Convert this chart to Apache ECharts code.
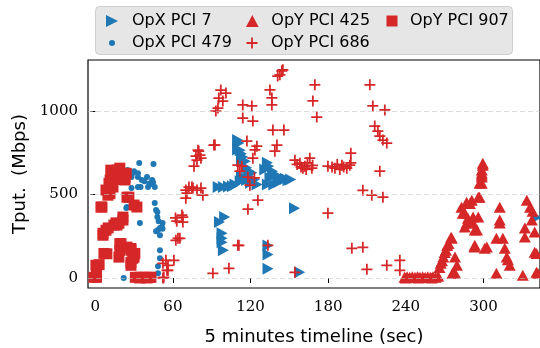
<!DOCTYPE html>
<html><head><meta charset="utf-8">
<script src="https://cdn.jsdelivr.net/npm/echarts@6/dist/echarts.min.js"></script>
<style>html,body{margin:0;padding:0;background:#fff}#c{width:540px;height:348px}</style>
</head><body><div id="c"></div>
<script>
const xTicks = [0, 60, 120, 180, 240, 300];
const yTicks = [0, 500, 1000];
const seriesNames = ['OpX PCI 7', 'OpX PCI 479', 'OpY PCI 425', 'OpY PCI 686', 'OpY PCI 907'];

const opxPci7 = [
  [95,545],[99,545],[103,548],[106,550],[108,560],[111,809],[110,770],[113,745],[114,725],[116,700],
  [117,660],[119,640],[121,630],[113,610],[118,600],[123,590],[112,580],[120,570],[125,560],
  [131,650],[133,690],[134,670],[135,600],[137,640],[139,620],[141,590],[143,600],[145,590],[147,595],
  [149,585],[151,590],[138,560],[133,560],[142,575],[110,826],[112,766],[113,706],[117,587],
  [96,335],[100,365],[98,268],[98,238],[98,214],[99,166],[154,418],[133.5,195],[133.5,140],[133.5,55],
  [158,34],[341,363]
];
const opxPci479 = [
  [25,647],[29,629],[34,689],[45,683],[33,605],[36,587],[40,605],[44,587],[46,545],[33,545],[28,539],
  [25,467],[24.5,425],[34.5,329],[46,449],[47,407],[48,365],[48.5,287],[51.5,304],[52,329],[50,256],
  [50,166],[50,118],[48.5,70],[48.5,28],[22,0],[45,4],[30,640],[38,580],[42,560],[48,395],[49,340],
  [50,300],[47,280],[52,295],[44.7,574],[40.8,545],[24,419],[33,627],[28,605],[42,566],[35,545]
];
const opyPci425 = [
  [239,5],[241,8],[243,5],[245,8],[247,5],[249,8],[251,5],[253,8],[255,5],[257,8],[259,5],[261,8],
  [263,5],[265,10],[240,0],[250,0],[260,0],
  [266,63],[268,104],[270,152],[272,195],[275.5,238],[276,28],[278,125],[279.5,76],[267,88],[269,125],
  [271,166],[273,207],[275,244],[278,30],
  [283,424],[287,454],[291,466],[285.6,388],[288,358],[285.6,305],[292,329],[293.3,287],[296,365],
  [297,484],[293.3,196],[301,178],[289.5,447],[284,388],[292,365],[287,329],[295,287],[293,186],[302.6,186],
  [298.7,567],[298.7,617],[298.7,647],[299.5,676],[298.7,629],[299.5,688],[298.7,605],[297,567],[296,484],
  [312.6,424],[312.6,347],[312.6,329],[310,238],[315,238],[316.5,178],[318,125],[320.3,76],[310,28],
  [318.9,110],[333.5,466],[336,424],[337.4,347],[332,299],[332,245],[339.6,275],[339.6,154],[330.4,16],
  [342,28],[338,400],[341,147],[341,34]
];
const opyPci686 = [
  [97,1126],[101,1108],[95.5,1078],[98.6,1060],[94.8,1018],[93.2,1000],[91.7,796],[80,760],[77.8,730],
  [81.7,718],[76.3,670],[72.4,545],[70,527],[75.5,539],[81.7,539],[83.2,496],[70,478],[67.7,365],
  [67.7,335],[63.9,238],[62.3,226],[54.6,106],[56.2,76],[60.8,106],[56.2,46],[53,4],[90.9,28],[103.3,58],
  [111,196],[52.3,88],[55.4,46],[52.3,0],[65.4,238],[67,377],[70.8,508],[74.7,545],[78.6,527],[79.4,766],
  [78.6,706],[80.9,736],[92.5,796],[62,360],[63,340],
  [144.2,1241],[142.7,1217],[141,1210],[145,1247],[135,1127],[136.5,1079],[136.5,1037],[114,1037],
  [121,1031],[114,958],[121.8,940],[137.3,886],[145.8,886],[117.2,820],[124.9,790],[123.4,767],
  [140.4,796],[138.8,760],[121.8,718],[110.2,676],[113.3,670],[111.8,640],
  [169.7,1157],[168.2,1061],[171.2,964],[212.2,1157],[214.5,1031],[223.8,1007],[216,910],[218.4,880],
  [219.9,850],[222.3,826],[225.3,808],[197.5,748],
  [154.3,706],[158.1,688],[160.5,658],[165.8,718],[167.4,658],[156,680],[162,670],[164,690],[168,675],
  [159,665],[163,650],
  [179.8,670],[185.2,658],[190.6,676],[194.4,658],[196.7,676],[183,665],[187,680],[192,665],[189,650],
  [197.5,690],[219.9,640],
  [118,604],[119.5,556],[125.7,466],[118,412],[110.2,196],[133.4,196],[179.8,388],[206.8,525],[213.7,496],
  [222.3,484],[198.3,178],[206.8,184],[209.9,52],[225.3,76],[235.4,106],[235.4,46],[154.3,34],[123,600]
];
const opyPci907 = [
  [1,4],[1,64],[0.5,76],[-1,4],[4.4,425],[5.2,425],[6,268],[6,256],[6.7,147],[8.3,286],[8.3,527],[9,145],
  [9.8,496],[10.6,567],[11.4,505],[13.7,616],[13.7,605],[13.7,545],[14.4,317],[16.8,647],[16.8,317],
  [17.5,627],[18.3,328],[18.3,125],[19,629],[19,206],[19,166],[19.9,206],[21.4,605],[21.4,365],[21.4,347],
  [24.5,484],[24.5,185],[26,484],[27.6,166],[27.6,76],[29,118],[30,125],[30,437],[32.2,425],[31,4],
  [33.8,4],[34.5,0],[36,4],[39,4],[40,0],[42,4],[43,4],[12,560],[15,590],[20,600],[23,600],[16,330],
  [10,300],[3,80],[12,646],[19,658],[24,627],[11.5,587],[16,598],[23,587],[27.6,177],[30.6,147],[27.6,94]
];

const BLUE = '#1f77b4', RED = '#d62728';
const RTRI = 'path://M0,0L10,5L0,10Z';
const UTRI = 'path://M5,0L10,9.5L0,9.5Z';
const SQR = 'path://M0,0H10V10H0Z';
const PLUS = 'path://M4.2,0H5.8V4.2H10V5.8H5.8V10H4.2V5.8H0V4.2H4.2Z';

const chart = echarts.init(document.getElementById('c'), null, {renderer: 'canvas'});

function legendAt(name, icon, size, cx, cy, textOff) {
  return {
    data: [{name: name, icon: icon}],
    left: cx - size / 2, top: cy - 6,
    itemWidth: (textOff - 5) * 2, itemHeight: size,
    padding: 0, selectedMode: false,
    textStyle: {fontFamily: 'DejaVu Sans', fontSize: 16, color: '#000'}
  };
}

chart.setOption({
  animation: false,
  backgroundColor: '#fff',
  graphic: [{
    type: 'rect', left: 95, top: 6, z: 0,
    shape: {width: 417, height: 48, r: 4},
    style: {fill: '#e6e6e6', stroke: '#cfcfcf', lineWidth: 1}
  }],
  legend: [
    legendAt(seriesNames[0], RTRI, 12, 112, 19, 20),
    legendAt(seriesNames[1], 'circle', 6, 112, 41, 20),
    legendAt(seriesNames[2], UTRI, 12, 252, 19, 19),
    legendAt(seriesNames[3], PLUS, 11, 252, 41, 19),
    legendAt(seriesNames[4], SQR, 11, 392, 19, 18)
  ],
  grid: {left: 88, right: 0, top: 60, bottom: 60, show: true, borderColor: '#000', borderWidth: 1.2,
    backgroundColor: 'transparent', containLabel: false, outerBoundsMode: 'none'},
  xAxis: {
    type: 'value', min: -5.6, max: 343.7,
    name: '5 minutes timeline (sec)', nameLocation: 'middle', nameGap: 40,
    nameTextStyle: {fontFamily: 'DejaVu Sans', fontSize: 18, color: '#000'},
    axisLine: {show: false},
    axisTick: {show: true, length: 5, inside: false, customValues: xTicks, lineStyle: {color: '#000', width: 1}},
    axisLabel: {customValues: xTicks, fontFamily: 'DejaVu Serif', fontSize: 15, color: '#000', margin: 12,
      formatter: v => String(v)},
    splitLine: {show: false}
  },
  yAxis: {
    type: 'value', min: -60, max: 1306,
    name: 'Tput.  (Mbps)', nameLocation: 'middle', nameGap: 51, nameRotate: 90,
    nameTextStyle: {fontFamily: 'DejaVu Sans', fontSize: 18, color: '#000'},
    axisLine: {show: false},
    axisTick: {show: true, length: 5, inside: false, customValues: yTicks, lineStyle: {color: '#000', width: 1}},
    axisLabel: {customValues: yTicks, fontFamily: 'DejaVu Serif', fontSize: 15, color: '#000', margin: 10,
      formatter: v => String(v)},
    splitLine: {show: false}
  },
  series: [
    {name: seriesNames[0], type: 'scatter', data: opxPci7, symbol: RTRI, symbolSize: [11, 12], itemStyle: {color: BLUE, opacity: 1}},
    {name: seriesNames[1], type: 'scatter', data: opxPci479, symbol: 'circle', symbolSize: 6, itemStyle: {color: BLUE, opacity: 1}},
    {name: seriesNames[2], type: 'scatter', data: opyPci425, symbol: UTRI, symbolSize: [12, 11], itemStyle: {color: RED, opacity: 1}},
    {name: seriesNames[3], type: 'scatter', data: opyPci686, symbol: PLUS, symbolSize: 11, itemStyle: {color: RED, opacity: 1}},
    {name: seriesNames[4], type: 'scatter', data: opyPci907, symbol: SQR, symbolSize: 11, itemStyle: {color: RED, opacity: 1},
      markLine: {
        silent: true, symbol: 'none', label: {show: false}, animation: false,
        lineStyle: {color: 'rgba(200,200,200,0.6)', type: [5, 3], width: 1},
        data: yTicks.map(v => ({yAxis: v}))
      }}
  ]
});
</script></body></html>
